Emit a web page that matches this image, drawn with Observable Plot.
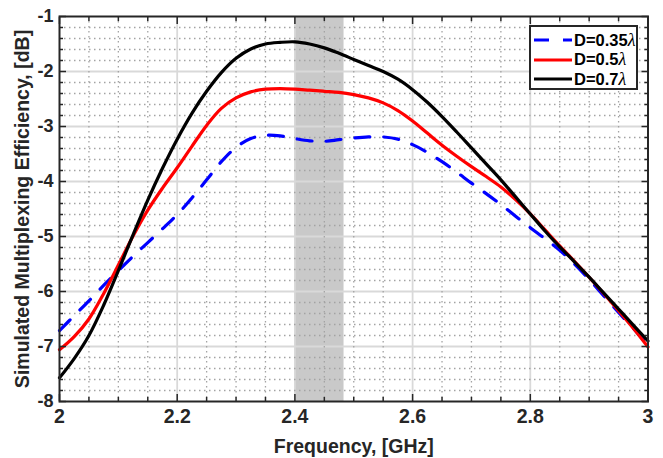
<!DOCTYPE html>
<html><head><meta charset="utf-8">
<script src="https://cdn.jsdelivr.net/npm/d3@7"></script>
<script src="https://cdn.jsdelivr.net/npm/@observablehq/plot@0.6"></script>
<style>
body{margin:0;background:#fff;}
#wrap{position:relative;width:663px;height:458px;}
#legend{position:absolute;left:529px;top:25px;width:105px;height:61px;border:2px solid #262626;background:#fff;font:bold 16.5px "Liberation Sans",Arial,sans-serif;color:#000;}
.row{position:absolute;left:3px;height:20px;display:flex;align-items:center;white-space:nowrap;}
.row svg{margin-right:2px;}
.lam{font-style:italic;font-weight:normal;font-family:"Liberation Serif","DejaVu Serif",serif;font-size:18px;}
</style></head><body><div id="wrap"></div>
<script>
const freq = [2, 2.025, 2.05, 2.075, 2.1, 2.125, 2.15, 2.175, 2.2, 2.225, 2.25, 2.275, 2.3, 2.325, 2.35, 2.375, 2.4, 2.425, 2.45, 2.475, 2.5, 2.525, 2.55, 2.575, 2.6, 2.625, 2.65, 2.675, 2.7, 2.725, 2.75, 2.775, 2.8, 2.825, 2.85, 2.875, 2.9, 2.925, 2.95, 2.975, 3];
const effD035 = [-6.71, -6.44, -6.17, -5.89, -5.62, -5.36, -5.11, -4.86, -4.60, -4.30, -3.97, -3.64, -3.38, -3.22, -3.16, -3.17, -3.22, -3.26, -3.27, -3.24, -3.21, -3.19, -3.19, -3.23, -3.33, -3.47, -3.64, -3.83, -4.03, -4.22, -4.42, -4.63, -4.84, -5.04, -5.25, -5.50, -5.78, -6.08, -6.38, -6.67, -6.97];
const effD05 = [-7.06, -6.82, -6.50, -6.04, -5.52, -4.99, -4.52, -4.12, -3.75, -3.36, -2.98, -2.67, -2.48, -2.37, -2.32, -2.31, -2.32, -2.34, -2.36, -2.38, -2.42, -2.48, -2.57, -2.71, -2.90, -3.12, -3.34, -3.54, -3.73, -3.91, -4.10, -4.33, -4.59, -4.88, -5.17, -5.45, -5.74, -6.04, -6.35, -6.67, -7.01];
const effD07 = [-7.57, -7.22, -6.80, -6.25, -5.62, -4.97, -4.34, -3.76, -3.23, -2.76, -2.36, -2.02, -1.76, -1.59, -1.50, -1.47, -1.46, -1.50, -1.57, -1.67, -1.78, -1.89, -2.00, -2.14, -2.33, -2.56, -2.82, -3.10, -3.39, -3.68, -3.97, -4.28, -4.59, -4.90, -5.19, -5.46, -5.74, -6.03, -6.32, -6.61, -6.90];
const seriesNames = ["D=0.35", "D=0.5", "D=0.7"];
const seriesColors = ["#0000ff", "#ff0000", "#000000"];
const xMajor = [2, 2.2, 2.4, 2.6, 2.8, 3];
const xTickLabels = ["2", "2.2", "2.4", "2.6", "2.8", "3"];
const yMajor = [-8, -7, -6, -5, -4, -3, -2, -1];
const yTickLabels = ["-8", "-7", "-6", "-5", "-4", "-3", "-2", "-1"];
const ismBand = [2.4, 2.4835];

const xMinor = d3.range(0, 21).map(i => +(2 + i * 0.05).toFixed(3));
const yMinor = d3.range(0, 36).map(i => +(-8 + i * 0.2).toFixed(3));
const isMajor = (arr, v) => arr.some(m => Math.abs(m - v) < 1e-6);
const xMinorOnly = xMinor.filter(v => !isMajor(xMajor, v));
const yMinorOnly = yMinor.filter(v => !isMajor(yMajor, v));
const xMajorInner = xMajor.slice(1, -1);
const yMajorInner = yMajor.slice(1, -1);

const series = [effD035, effD05, effD07];
const rows = [];
series.forEach((vals, s) => vals.forEach((v, i) => rows.push({f: freq[i], v, s: seriesNames[s]})));

const tickColor = "#262626";
const plot = Plot.plot({
  width: 663, height: 458,
  marginLeft: 59, marginRight: 15.5, marginTop: 16, marginBottom: 57,
  x: {domain: [2, 3]},
  y: {domain: [-8, -1]},
  style: {fontFamily: "'Liberation Sans', Arial, sans-serif", fontWeight: "bold", fontSize: "18px", color: "#262626", background: "#fff"},
  marks: [
    Plot.rect([{a: ismBand[0], b: ismBand[1]}], {x1: "a", x2: "b", fill: "#c9c9c9"}),
    Plot.ruleX(xMajorInner, {stroke: "#d9d9d9", strokeWidth: 1.8}),
    Plot.ruleY(yMajorInner, {stroke: "#d9d9d9", strokeWidth: 1.8}),
    Plot.ruleX(xMinorOnly, {stroke: "#a3a3a3", strokeWidth: 1.3, strokeDasharray: "1.5,3.5"}),
    Plot.ruleY(yMinorOnly, {stroke: "#a3a3a3", strokeWidth: 1.3, strokeDasharray: "1.5,3.5"}),
    Plot.line(rows.filter(d => d.s === seriesNames[0]), {x: "f", y: "v", stroke: seriesColors[0], strokeWidth: 3.2, strokeDasharray: "15,14", curve: "catmull-rom"}),
    Plot.line(rows.filter(d => d.s === seriesNames[1]), {x: "f", y: "v", stroke: seriesColors[1], strokeWidth: 3.2, curve: "catmull-rom"}),
    Plot.line(rows.filter(d => d.s === seriesNames[2]), {x: "f", y: "v", stroke: seriesColors[2], strokeWidth: 3.2, curve: "catmull-rom"}),
    // inward ticks on all four sides
    Plot.axisX({anchor: "bottom", ticks: xMinorOnly, tickSize: -4, text: null, label: null, stroke: tickColor, strokeWidth: 1.5}),
    Plot.axisX({anchor: "top", ticks: xMinorOnly, tickSize: -4, text: null, label: null, stroke: tickColor, strokeWidth: 1.5}),
    Plot.axisX({anchor: "bottom", ticks: xMajor, tickSize: -7, text: null, label: null, stroke: tickColor, strokeWidth: 1.5}),
    Plot.axisX({anchor: "top", ticks: xMajor, tickSize: -7, text: null, label: null, stroke: tickColor, strokeWidth: 1.5}),
    Plot.axisY({anchor: "left", ticks: yMinorOnly, tickSize: -4, text: null, label: null, stroke: tickColor, strokeWidth: 1.5}),
    Plot.axisY({anchor: "right", ticks: yMinorOnly, tickSize: -4, text: null, label: null, stroke: tickColor, strokeWidth: 1.5}),
    Plot.axisY({anchor: "left", ticks: yMajor, tickSize: -7, text: null, label: null, stroke: tickColor, strokeWidth: 1.5}),
    Plot.axisY({anchor: "right", ticks: yMajor, tickSize: -7, text: null, label: null, stroke: tickColor, strokeWidth: 1.5}),
    // tick labels and titles
    Plot.axisX({anchor: "bottom", ticks: xMajor, tickSize: 0, tickPadding: 8, tickFormat: (d, i) => xTickLabels[i], label: "Frequency, [GHz]", labelAnchor: "center", labelArrow: "none", labelOffset: 51, fontSize: 19.5}),
    Plot.axisY({anchor: "left", ticks: yMajor, tickSize: 0, tickPadding: 6, tickFormat: (d, i) => yTickLabels[i], label: "Simulated Multiplexing Efficiency, [dB]", labelAnchor: "center", labelArrow: "none", labelOffset: 44, fontSize: 18}),
    Plot.frame({stroke: tickColor, strokeWidth: 2})
  ]
});
// make the axis titles a bit larger than the tick labels
plot.querySelectorAll("g[aria-label='x-axis label'] text, g[aria-label='y-axis label'] text").forEach(t => t.setAttribute("font-size", "19.5"));
const wrap = document.getElementById("wrap");
wrap.appendChild(plot);

// legend inside the axes (upper right)
const legend = document.createElement("div");
legend.id = "legend";
seriesNames.forEach((name, i) => {
  const row = document.createElement("div");
  row.className = "row";
  row.style.top = (3 + i * 19.5) + "px";
  const dash = i === 0 ? 'stroke-dasharray="15,14"' : "";
  row.innerHTML = `<svg width="38" height="6"><line x1="0" y1="3" x2="38" y2="3" stroke="${seriesColors[i]}" stroke-width="3.2" ${dash}/></svg><span>${name}<span class="lam">λ</span></span>`;
  legend.appendChild(row);
});
wrap.appendChild(legend);
</script>
</body></html>
